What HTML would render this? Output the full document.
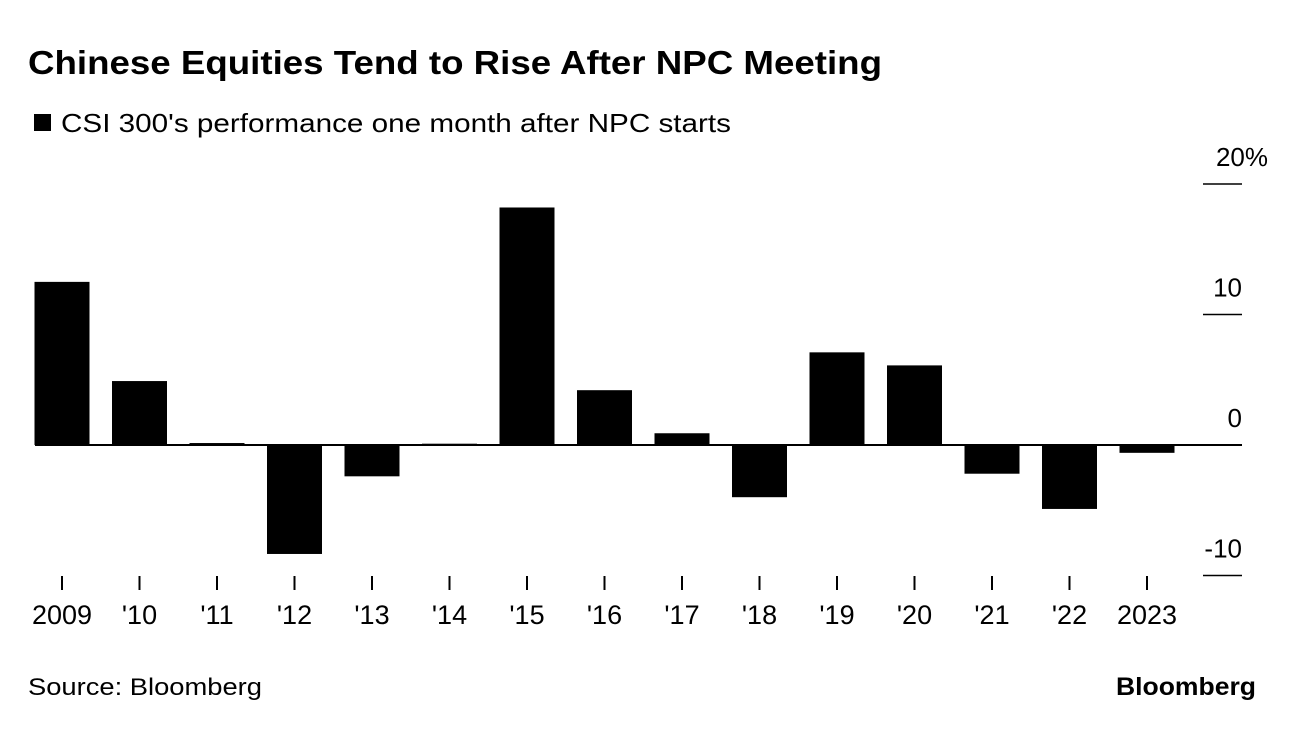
<!DOCTYPE html>
<html><head><meta charset="utf-8"><style>
body{margin:0;background:#fff;font-family:"Liberation Sans",sans-serif;}
svg text{font-family:"Liberation Sans",sans-serif;}
</style></head><body>
<svg width="1296" height="728">
<text x="28" y="74" font-size="33" font-weight="bold" fill="#000" textLength="854" lengthAdjust="spacingAndGlyphs">Chinese Equities Tend to Rise After NPC Meeting</text>
<rect x="34" y="114" width="17" height="17" fill="#000"/>
<text x="61" y="132" font-size="26" fill="#000" textLength="670" lengthAdjust="spacingAndGlyphs">CSI 300's performance one month after NPC starts</text>
<g id="grid"></g><g id="bars"></g><g id="xaxis"></g>
<text x="28" y="695" font-size="24" fill="#000" textLength="234" lengthAdjust="spacingAndGlyphs">Source: Bloomberg</text>
<text x="1116" y="695" font-size="25" font-weight="bold" fill="#000" textLength="140" lengthAdjust="spacingAndGlyphs">Bloomberg</text>
</svg>
<script>
const categories=["2009","'10","'11","'12","'13","'14","'15","'16","'17","'18","'19","'20","'21","'22","2023"];
const values=[12.5,4.9,0.15,-8.35,-2.4,0.1,18.2,4.2,0.9,-4.0,7.1,6.1,-2.2,-4.9,-0.6];
const yTicks=[20,10,0,-10];
const yTickLabels=["20%","10","0","-10"];
const ns="http://www.w3.org/2000/svg";
const y=v=>445-v*13.05;
const x=i=>62+i*77.5;
function mk(t,a,p){const e=document.createElementNS(ns,t);for(const k in a)e.setAttribute(k,a[k]);p.appendChild(e);return e;}
const grid=document.getElementById('grid'),bars=document.getElementById('bars'),xa=document.getElementById('xaxis');
yTicks.forEach((v,i)=>{
 const l=mk('line',{x1:v===0?35:1203,x2:1242,y1:y(v),y2:y(v),stroke:'#000','stroke-width':v===0?2:1.5},grid);
 
 
 const t=mk('text',{x:v===20?1268:1242,y:y(v)-18,'font-size':26,'text-anchor':'end',fill:'#000'},grid);
 t.textContent=yTickLabels[i];
 
 
});
values.forEach((v,i)=>{
 const top=Math.min(y(v),y(0)),h=Math.abs(y(v)-y(0));
 const r=mk('rect',{x:x(i)-27.5,y:top,width:55,height:Math.max(h,1),fill:'#000'},bars);
 
 
 const tk=mk('line',{x1:x(i),x2:x(i),y1:576,y2:590,stroke:'#000','stroke-width':2},xa);
 
 
 const t=mk('text',{x:x(i),y:624,'font-size':27,'text-anchor':'middle',fill:'#000'},xa);
 t.textContent=categories[i];
 
 
});
</script>
</body></html>
